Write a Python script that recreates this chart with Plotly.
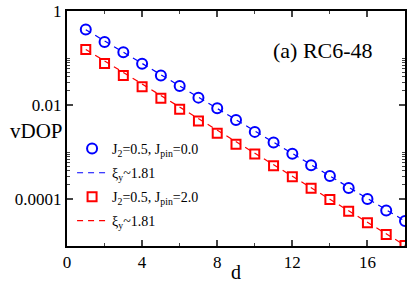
import plotly.graph_objects as go

d = list(range(1, 19))
blue_vdop = [0.402, 0.220, 0.133, 0.0754, 0.0426, 0.0253, 0.01435, 0.00851, 0.00481,
             0.00268, 0.00160, 0.000916, 0.000520, 0.000308, 0.000172, 0.000100, 5.68e-5, 3.39e-5]
red_vdop = [0.151, 0.0764, 0.0426, 0.0245, 0.01386, 0.00811, 0.00458, 0.00251, 0.00147,
            0.000903, 0.000510, 0.000298, 0.000169, 9.7e-5, 5.52e-5, 3.12e-5, 1.76e-5, 1.03e-5]
fit_d = [1, 18]
blue_fit = [0.40, 3.4e-5]
red_fit = [0.152, 1.03e-5]

x_ticks = [0, 4, 8, 12, 16]
y_ticks = [1, 0.01, 0.0001]
y_tick_text = ["1", "0.01", "0.0001"]

FONT = "Liberation Serif"
BLUE = "#0000ff"
RED = "#ff0000"

fig = go.Figure()
fig.add_trace(go.Scatter(x=d, y=blue_vdop, mode="markers", name="J<sub>2</sub>=0.5, J<sub>pin</sub>=0.0",
                         legend="legend",
                         marker=dict(symbol="circle-open", size=10, color=BLUE, line=dict(width=2, color=BLUE))))
fig.add_trace(go.Scatter(x=fit_d, y=blue_fit, mode="lines", name="ξ<sub>y</sub>~1.81", legend="legend2",
                         line=dict(color=BLUE, width=1.2, dash="6px,5px")))
fig.add_trace(go.Scatter(x=d, y=red_vdop, mode="markers", name="J<sub>2</sub>=0.5, J<sub>pin</sub>=2.0",
                         legend="legend3",
                         marker=dict(symbol="square-open", size=9, color=RED, line=dict(width=2, color=RED))))
fig.add_trace(go.Scatter(x=fit_d, y=red_fit, mode="lines", name="ξ<sub>y</sub>~1.81", legend="legend4",
                         line=dict(color=RED, width=1.2, dash="6px,5px")))

minor_y = []
for e in [-2, -4]:
    minor_y += [k * 10 ** e for k in range(2, 10)]
minor_y += [0.1, 0.001, 1e-5]

leg_common = dict(x=0.015, xanchor="left", yanchor="middle", bgcolor="rgba(0,0,0,0)",
                  font=dict(family=FONT, size=14), itemwidth=30)

fig.update_layout(
    width=411, height=287,
    margin=dict(l=67, r=6, t=11, b=41),
    plot_bgcolor="white", paper_bgcolor="white",
    font=dict(family=FONT, size=17, color="black"),
    showlegend=True,
    legend=dict(y=0.413, **leg_common),
    legend2=dict(y=0.31, **leg_common),
    legend3=dict(y=0.208, **leg_common),
    legend4=dict(y=0.106, **leg_common),
    xaxis=dict(range=[0, 18], tickvals=x_ticks, ticks="inside", ticklen=6, tickwidth=1.5,
               showline=True, linecolor="black", linewidth=2, mirror="ticks", showgrid=False, zeroline=False,
               automargin=False,
               minor=dict(tickvals=[2, 6, 10, 14, 18], ticks="inside", ticklen=3, tickwidth=1)),
    yaxis=dict(type="log", range=[-5, 0], tickvals=y_ticks, ticktext=y_tick_text, ticks="inside",
               ticklen=6, tickwidth=1.5, showline=True, linecolor="black", linewidth=2, mirror="ticks",
               showgrid=False, zeroline=False, automargin=False,
               minor=dict(tickvals=minor_y, ticks="inside", ticklen=3, tickwidth=1)),
    annotations=[
        dict(text="(a) RC6-48", x=0.912, y=0.83, xref="paper", yref="paper", xanchor="right", yanchor="middle",
             showarrow=False, font=dict(family=FONT, size=22)),
        dict(text="vDOP", x=-0.005, y=0.49, xref="paper", yref="paper", xanchor="right", yanchor="middle",
             showarrow=False, font=dict(family=FONT, size=21)),
        dict(text="d", x=0.5, y=-0.11, xref="paper", yref="paper", xanchor="center", yanchor="middle",
             showarrow=False, font=dict(family=FONT, size=20)),
    ],
)

fig.write_html("out.html", config={"displayModeBar": False},
               post_script="document.body.style.margin='0';document.body.style.overflow='hidden';")
